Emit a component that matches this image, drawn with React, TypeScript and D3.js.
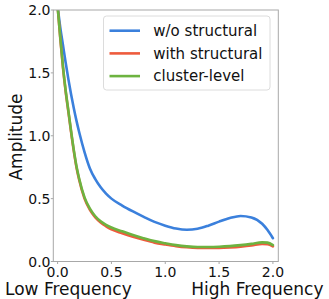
import React from 'react';
import * as d3 from 'd3';

// Values
const freqs = [0, 0.025, 0.05, 0.075, 0.1, 0.125, 0.15, 0.175, 0.2, 0.25, 0.3, 0.35, 0.4, 0.45, 0.5, 0.6, 0.7, 0.8, 0.9, 1.0, 1.1, 1.2, 1.3, 1.4, 1.5, 1.6, 1.7, 1.8, 1.9, 1.95, 2.0];
const withoutStructural = [2.03, 1.86, 1.72, 1.58, 1.45, 1.33, 1.22, 1.12, 1.03, 0.87, 0.74, 0.655, 0.59, 0.54, 0.5, 0.445, 0.398, 0.355, 0.315, 0.285, 0.262, 0.252, 0.26, 0.285, 0.317, 0.345, 0.362, 0.35, 0.3, 0.25, 0.185];
const withStructural = [2.03, 1.77, 1.54, 1.35, 1.19, 1.03, 0.88, 0.75, 0.65, 0.5, 0.41, 0.35, 0.31, 0.28, 0.255, 0.225, 0.197, 0.172, 0.15, 0.135, 0.122, 0.113, 0.108, 0.107, 0.108, 0.112, 0.118, 0.127, 0.14, 0.138, 0.12];
const clusterLevel = [2.03, 1.78, 1.55, 1.36, 1.2, 1.04, 0.89, 0.76, 0.66, 0.51, 0.42, 0.36, 0.32, 0.292, 0.27, 0.24, 0.21, 0.185, 0.162, 0.145, 0.13, 0.12, 0.115, 0.115, 0.117, 0.122, 0.13, 0.14, 0.152, 0.15, 0.13];

const seriesNames = ['w/o structural', 'with structural', 'cluster-level'];
const seriesColors = ['#3b80dc', '#ee5b3d', '#6db340'];
const xTicks = [0, 0.5, 1.0, 1.5, 2.0];
const yTicks = [0, 0.5, 1.0, 1.5, 2.0];

const W = 329;
const H = 299;
const left = 53.3;
const right = 278.3;
const top = 10;
const bottom = 261.5;

export default function App() {
  const x = d3.scaleLinear().domain([-0.04, 2.05]).range([left, right]);
  const y = d3.scaleLinear().domain([0, 2]).range([bottom, top]);

  const line = d3.line<number>()
    .x((_, i) => x(freqs[i]))
    .y(d => y(d))
    .curve(d3.curveMonotoneX);

  const allSeries = [withoutStructural, withStructural, clusterLevel];
  const font = 'DejaVu Sans, sans-serif';

  return (
    <svg width={W} height={H} style={{ position: 'absolute', left: 0, top: 0 }} fontFamily={font}>
      <defs>
        <clipPath id="plot">
          <rect x={left} y={top} width={right - left} height={bottom - top} />
        </clipPath>
      </defs>
      <rect width={W} height={H} fill="#fff" />

      <g clipPath="url(#plot)">
        {allSeries.map((s, i) => (
          <path key={i} d={line(s) ?? ''} fill="none" stroke={seriesColors[i]}
            strokeWidth={2.6} strokeLinejoin="round" strokeLinecap="round" />
        ))}
      </g>

      <rect x={left} y={top} width={right - left} height={bottom - top} fill="none" stroke="#a8a8a8" strokeWidth={1} />

      {xTicks.map(t => (
        <g key={'x' + t}>
          <line x1={x(t)} x2={x(t)} y1={bottom} y2={bottom + 2.5} stroke="#a8a8a8" />
          <text x={x(t)} y={276.5} fontSize={14} textAnchor="middle" fill="#111">{t.toFixed(1)}</text>
        </g>
      ))}
      {yTicks.map(t => (
        <g key={'y' + t}>
          <line x1={left - 2.5} x2={left} y1={y(t)} y2={y(t)} stroke="#a8a8a8" />
          <text x={50.5} y={y(t)} dy="0.36em" fontSize={14} textAnchor="end" fill="#111">{t.toFixed(1)}</text>
        </g>
      ))}

      <text transform="rotate(-90)" x={-137} y={21.5} fontSize={17} textAnchor="middle" fill="#111">Amplitude</text>
      <text x={5} y={295} fontSize={17} fill="#111">Low Frequency</text>
      <text x={323.5} y={295} fontSize={17} textAnchor="end" fill="#111">High Frequency</text>

      <g>
        <rect x={103.5} y={16} width={166.5} height={74} rx={3} fill="#fff" fillOpacity={0.8} stroke="#dcdcdc" />
        {seriesNames.map((name, i) => {
          const ry = 30.7 + i * 22.7;
          return (
            <g key={name}>
              <line x1={109.5} x2={140} y1={ry} y2={ry} stroke={seriesColors[i]} strokeWidth={2.6} />
              <text x={153.3} y={ry} dy="0.35em" fontSize={15} fill="#111">{name}</text>
            </g>
          );
        })}
      </g>
    </svg>
  );
}
